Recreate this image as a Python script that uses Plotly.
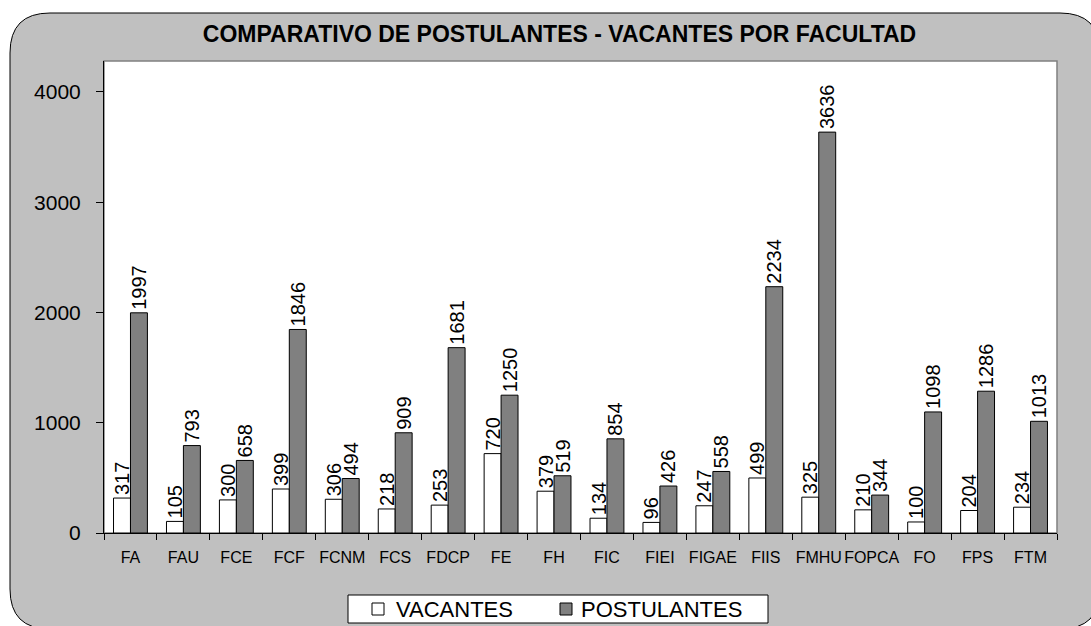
import plotly.graph_objects as go

facultades = ["FA", "FAU", "FCE", "FCF", "FCNM", "FCS", "FDCP", "FE", "FH", "FIC",
              "FIEI", "FIGAE", "FIIS", "FMHU", "FOPCA", "FO", "FPS", "FTM"]
vacantes = [317, 105, 300, 399, 306, 218, 253, 720, 379, 134, 96, 247, 499, 325, 210, 100, 204, 234]
postulantes = [1997, 793, 658, 1846, 494, 909, 1681, 1250, 519, 854, 426, 558, 2234, 3636, 344, 1098, 1286, 1013]
y_ticks = [0, 1000, 2000, 3000, 4000]
series_names = ["VACANTES", "POSTULANTES"]
series_colors = ["white", "#808080"]

W, H = 1091, 626
L, R, T, B = 104, 1057, 61, 533
FONT = "Liberation Sans, Arial, sans-serif"


def px(x):
    return (x - L) / (R - L)


def py(y):
    return (B - y) / (B - T)


# rounded background rectangle (in pixel coordinates converted to paper)
x0, x1, y0, y1, r = 10, 1100, 13, 629, 40
path = (
    f"M {px(x0 + r)},{py(y0)} L {px(x1 - r)},{py(y0)} "
    f"Q {px(x1)},{py(y0)} {px(x1)},{py(y0 + r)} "
    f"L {px(x1)},{py(y1 - r)} Q {px(x1)},{py(y1)} {px(x1 - r)},{py(y1)} "
    f"L {px(x0 + r)},{py(y1)} Q {px(x0)},{py(y1)} {px(x0)},{py(y1 - r)} "
    f"L {px(x0)},{py(y0 + r)} Q {px(x0)},{py(y0)} {px(x0 + r)},{py(y0)} Z"
)

fig = go.Figure()
for name, vals, col in zip(series_names, [vacantes, postulantes], series_colors):
    fig.add_trace(go.Bar(
        name=name, x=facultades, y=vals,
        marker=dict(color=col, line=dict(color="#000000", width=1)),
        text=[str(v) for v in vals], textposition="outside", textangle=-90,
        textfont=dict(family=FONT, size=20, color="black"), constraintext="none",
        cliponaxis=False, showlegend=False,
    ))

# legend drawn as a framed box (matching the original's compact legend)
shapes = [
    dict(type="path", path=path, xref="paper", yref="paper", layer="below",
         fillcolor="#c0c0c0", line=dict(color="black", width=1)),
    dict(type="rect", x0=0, x1=1, y0=0, y1=1, xref="paper", yref="paper",
         layer="below", fillcolor="white", line=dict(color="#808080", width=1.5)),
    dict(type="rect", x0=px(348), x1=px(768), y0=py(595), y1=py(623),
         xref="paper", yref="paper", fillcolor="white", line=dict(color="black", width=1)),
]
annotations = []
legend_sq = [372, 560]
legend_txt = [394, 579]
for lx, tx, name, col in zip(legend_sq, legend_txt, series_names, series_colors):
    shapes.append(dict(type="rect", x0=px(lx), x1=px(lx + 12), y0=py(603), y1=py(615),
                       xref="paper", yref="paper", fillcolor=col,
                       line=dict(color="black", width=1)))
    annotations.append(dict(text=name, x=px(tx), y=py(609), xref="paper", yref="paper",
                            xanchor="left", yanchor="middle", showarrow=False,
                            font=dict(family=FONT, size=22, color="black")))

fig.update_layout(
    width=W, height=H,
    margin=dict(l=L, r=W - R, t=T, b=H - B, pad=0),
    paper_bgcolor="white",
    plot_bgcolor="rgba(0,0,0,0)",
    barmode="group", bargap=0.36, bargroupgap=0,
    font=dict(family=FONT, color="black"),
    showlegend=False,
    title=dict(text="<b>COMPARATIVO DE POSTULANTES - VACANTES POR FACULTAD</b>",
               x=559.5 / W, xref="container", xanchor="center",
               y=1 - 34 / H, yref="container", yanchor="middle",
               font=dict(family=FONT, size=23, color="black")),
    xaxis=dict(showgrid=False, showline=True, linecolor="black", linewidth=1,
               ticks="outside", tickson="boundaries", ticklen=6, tickcolor="black",
               tickangle=0, automargin=False,
               tickfont=dict(family=FONT, size=16, color="black"),
               ticklabelstandoff=10, zeroline=False),
    yaxis=dict(range=[0, 4281], tickvals=y_ticks, showgrid=False, showline=True,
               linecolor="black", linewidth=1, ticks="outside", ticklen=7,
               tickcolor="black", tickfont=dict(family=FONT, size=21, color="black"),
               ticklabelstandoff=11, zeroline=False, automargin=False),
    shapes=shapes,
    annotations=annotations,
)

fig.write_html("out.html", config={"displayModeBar": False})

# remove the browser's default page margin so the figure sits at the window origin
with open("out.html", encoding="utf-8") as f:
    html = f.read()
html = html.replace("<head>", "<head><style>html,body{margin:0;padding:0;overflow:hidden;}</style>", 1)
with open("out.html", "w", encoding="utf-8") as f:
    f.write(html)
